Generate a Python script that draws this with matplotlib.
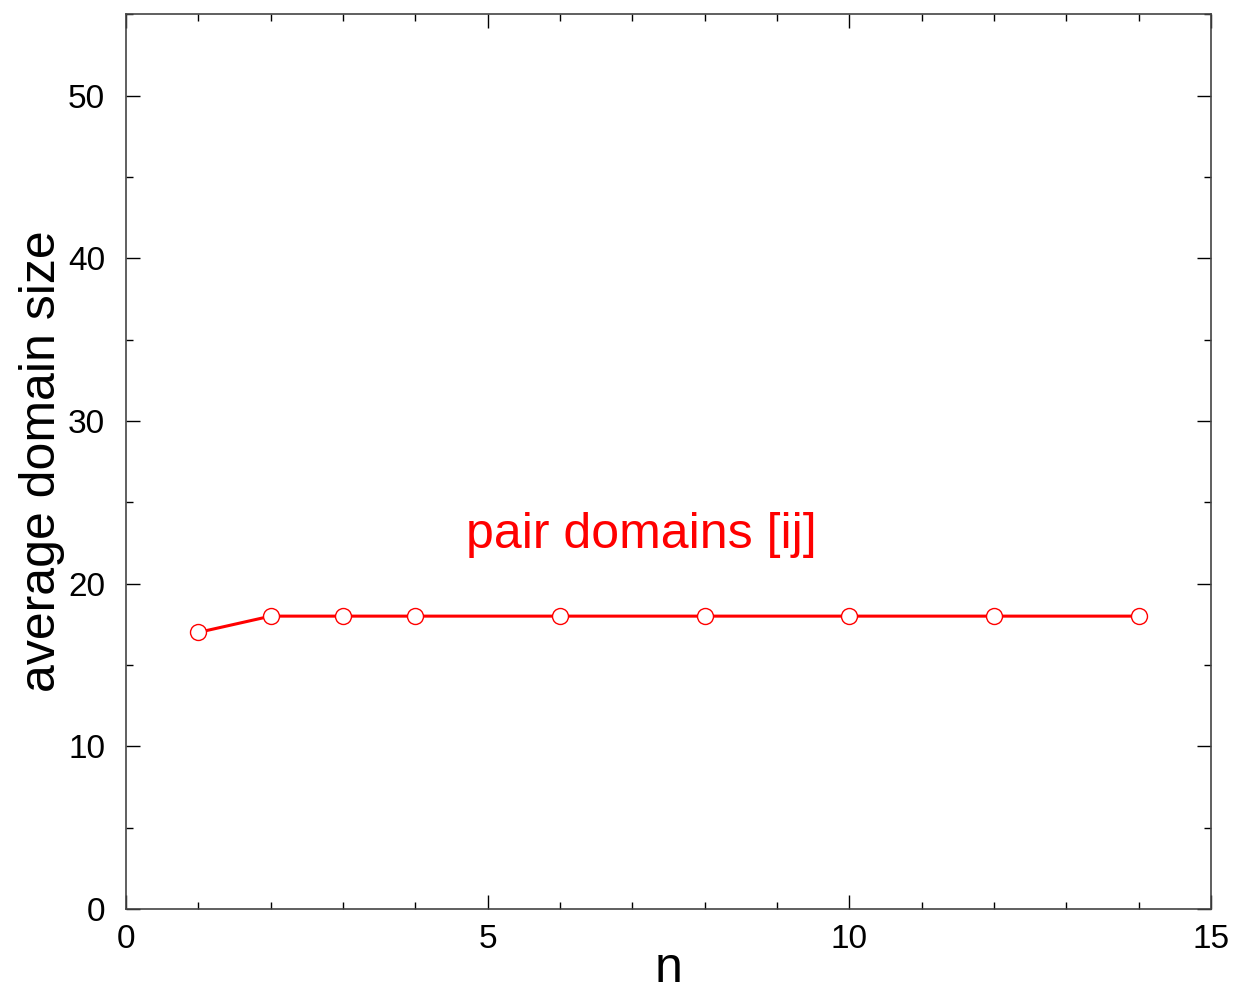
import matplotlib
matplotlib.use("Agg")
import matplotlib.pyplot as plt
from matplotlib.ticker import MultipleLocator

n_vals = [1, 2, 3, 4, 6, 8, 10, 12, 14]
domain_size = [17, 18, 18, 18, 18, 18, 18, 18, 18]

plt.rcParams['font.family'] = ['Liberation Sans', 'DejaVu Sans']

fig = plt.figure(figsize=(12.33, 9.92), dpi=100)
ax = fig.add_axes([0.1022, 0.0837, 0.88, 0.902])

ax.plot(n_vals, domain_size, color='red', lw=2.2, marker='o', ms=11.5,
        mfc='white', mec='red', mew=1.0, zorder=3)

ax.text(7.13, 22.97, "pair domains [ij]", color='red', fontsize=36,
        ha='center', va='center')

ax.set_xlim(0, 15)
ax.set_ylim(0, 55)
ax.xaxis.set_major_locator(MultipleLocator(5))
ax.xaxis.set_minor_locator(MultipleLocator(1))
ax.yaxis.set_major_locator(MultipleLocator(10))
ax.yaxis.set_minor_locator(MultipleLocator(5))
ax.tick_params(which='both', direction='in', top=True, right=True, labelsize=24, width=1)
ax.tick_params(which='major', length=10)
ax.tick_params(which='minor', length=5)
ax.tick_params(axis='x', which='major', pad=11)
ax.tick_params(axis='y', which='major', pad=15)
for s in ax.spines.values():
    s.set_linewidth(1.2)
    s.set_color('#444444')

ax.set_xlabel("n", fontsize=36, labelpad=-7)
ax.set_ylabel("average domain size", fontsize=36, labelpad=2)

fig.savefig("out.png", dpi=100)
